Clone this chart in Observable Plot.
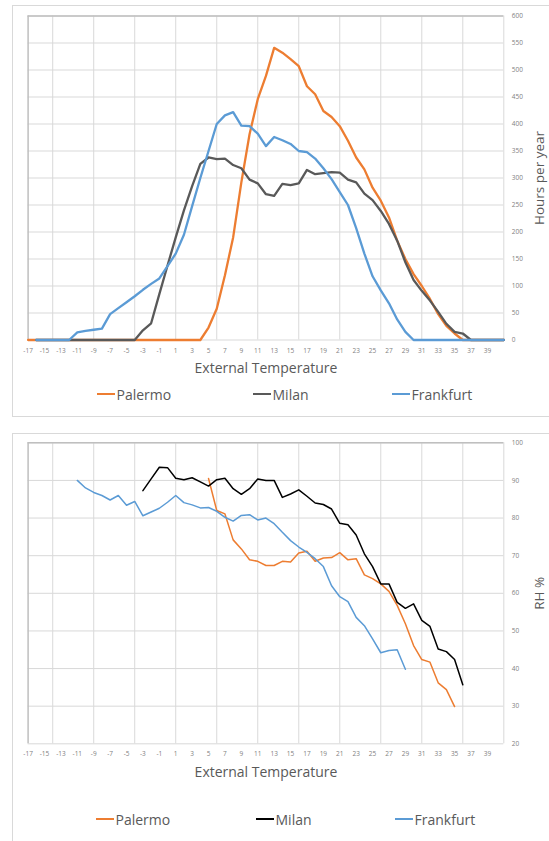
<!DOCTYPE html>
<html>
<head>
<meta charset="utf-8">
<script src="https://cdn.jsdelivr.net/npm/d3@7"></script>
<script src="https://cdn.jsdelivr.net/npm/@observablehq/plot@0.6"></script>
<style>
  body { margin: 0; background: #fff; font-family: "Open Sans", sans-serif; }
  #page { position: relative; width: 549px; height: 841px; overflow: hidden; background: #fff; }
  .chart { position: absolute; left: 0; }
  .panel { position: absolute; border: 1px solid #d9d9d9; box-sizing: border-box; background: transparent; pointer-events: none; }
  .legend { position: absolute; left: 0; width: 549px; height: 20px; font-size: 14px; color: #595959; }
  .item { position: absolute; top: 0; height: 20px; display: flex; align-items: center; white-space: nowrap; }
  .sw { display: inline-block; width: 18px; margin-right: 1.5px; }
</style>
</head>
<body>
<div id="page">
  <div id="top" class="chart" style="top:0px"></div>
  <div id="bottom" class="chart" style="top:427px"></div>
  <div class="panel" style="left:12px; top:5px; width:545px; height:412px;"></div>
  <div class="panel" style="left:12px; top:433px; width:545px; height:420px;"></div>
  <div id="legTop" class="legend" style="top:384px"></div>
  <div id="legBottom" class="legend" style="top:809px"></div>
</div>
<script>
// ---- categories & ticks ----
const temps = [-17,-16,-15,-14,-13,-12,-11,-10,-9,-8,-7,-6,-5,-4,-3,-2,-1,0,1,2,3,4,5,6,7,8,9,10,11,12,13,14,15,16,17,18,19,20,21,22,23,24,25,26,27,28,29,30,31,32,33,34,35,36,37,38,39,40,41];
const xTickLabels = [-17,-15,-13,-11,-9,-7,-5,-3,-1,1,3,5,7,9,11,13,15,17,19,21,23,25,27,29,31,33,35,37,39];
const xGridLines = [-14,-9,-4,1,6,11,16,21,26,31,36,41];
const hoursTicks = [0,50,100,150,200,250,300,350,400,450,500,550,600];
const rhTicks = [20,30,40,50,60,70,80,90,100];
const seriesNames = ["Palermo","Milan","Frankfurt"];

// ---- hours per year (top chart) ----
const palermoHours = [0,0,0,0,0,0,0,0,0,0,0,0,0,0,0,0,0,0,0,0,0,0,
  23,58,120,190,292,381,446,489,541,532,520,507,470,455,424,413,396,369,338,316,282,258,227,184,150,122,100,76,48,26,12,
  0,0,0,0,0,0];
const milanHours = [null,0,0,0,0,0,0,0,0,0,0,0,0,0,
  18,31,85,138,190,240,285,326,338,335,336,324,318,297,290,270,267,289,287,290,315,307,309,311,310,297,292,271,259,239,215,184,144,111,91,73,52,30,15,12,
  0,0,0,0,0];
const frankfurtHours = [null,0,0,0,0,0,
  14,17,19,21,48,59,70,81,93,104,114,137,160,195,248,300,350,400,416,422,397,396,382,359,376,370,363,350,348,336,318,298,274,250,207,160,118,92,68,38,15,
  0,0,0,0,0,0,0,0,0,0,0,0];

// ---- relative humidity (bottom chart) ----
const palermoRH = [null,null,null,null,null,null,null,null,null,null,null,null,null,null,null,null,null,null,null,null,null,null,
  90.5,82,81.1,74.2,71.8,68.9,68.5,67.4,67.4,68.5,68.3,70.7,71.2,68.5,69.4,69.5,70.8,68.9,69.2,64.9,63.9,62.5,60.5,56.8,51.9,46.1,42.4,41.7,36.2,34.4,29.9,
  null,null,null,null,null,null];
const milanRH = [null,null,null,null,null,null,null,null,null,null,null,null,null,null,
  87.3,90.4,93.5,93.4,90.6,90.2,90.7,89.6,88.5,90.2,90.6,87.8,86.3,87.8,90.4,90,90,85.5,86.4,87.5,85.8,84,83.6,82.4,78.6,78.2,75.5,70.5,67.1,62.5,62.5,57.6,56,57.2,52.8,51.2,45.2,44.5,42.4,35.7,
  null,null,null,null,null];
const frankfurtRH = [null,null,null,null,null,null,
  90,88,86.8,86,84.8,86,83.4,84.4,80.6,81.6,82.6,84.2,86,84.1,83.5,82.7,82.8,81.8,80.2,79.2,80.7,80.9,79.5,80,78.5,76.2,74,72.3,70.9,69.2,67.1,62,59.1,57.8,53.6,51.4,47.9,44.2,44.8,45,39.8,
  null,null,null,null,null,null,null,null,null,null,null,null];

const topColors = ["#ED7D31", "#595959", "#5B9BD5"];
const bottomColors = ["#ED7D31", "#000000", "#5B9BD5"];

function rows(values) {
  return temps.map((t, i) => ({t, v: values[i]}));
}

function makeChart({series, colors, strokeWidth, yDomain, yTicks, yLabel, height, marginTop}) {
  return Plot.plot({
    width: 549,
    height,
    marginTop,
    marginBottom: 45,
    marginLeft: 27.6,
    marginRight: 45.7,
    x: {type: "linear", domain: [-17, 41]},
    y: {domain: yDomain},
    style: {fontFamily: "Open Sans", color: "#595959", background: "transparent"},
    marks: [
      Plot.gridY(yTicks, {stroke: "#d9d9d9", strokeOpacity: 1, strokeWidth: 1}),
      Plot.gridX(xGridLines, {stroke: "#d9d9d9", strokeOpacity: 1, strokeWidth: 1}),
      Plot.ruleY([yDomain[1]], {stroke: "#bfbfbf", strokeWidth: 1.5}),
      Plot.ruleX([-17], {stroke: "#bfbfbf", strokeWidth: 1.5}),
      ...series.map((s, i) => Plot.lineY(rows(s), {x: "t", y: "v", stroke: colors[i], strokeWidth})),
      Plot.axisX(xTickLabels, {tickSize: 0, tickPadding: 8, fontSize: 6.5, fill: "#7f7f7f", label: null, tickFormat: d => String(d)}),
      Plot.axisY(yTicks, {anchor: "right", tickSize: 0, tickPadding: 8, fontSize: 6.5, fill: "#7f7f7f", label: null, tickFormat: d => String(d)}),
      Plot.text(["External Temperature"], {text: d => d, frameAnchor: "bottom", lineAnchor: "middle", textAnchor: "middle", dy: 29, fontSize: 14, fill: "#595959"}),
      Plot.text([yLabel], {text: d => d, frameAnchor: "right", lineAnchor: "middle", textAnchor: "middle", rotate: -90, dx: 36, fontSize: 13.5, fill: "#595959"})
    ]
  });
}

document.getElementById("top").append(makeChart({
  series: [palermoHours, milanHours, frankfurtHours],
  colors: topColors, strokeWidth: 2.3,
  yDomain: [0, 600], yTicks: hoursTicks, yLabel: "Hours per year",
  height: 384.5, marginTop: 15.5
}));

document.getElementById("bottom").append(makeChart({
  series: [palermoRH, milanRH, frankfurtRH],
  colors: bottomColors, strokeWidth: 1.5,
  yDomain: [20, 100], yTicks: rhTicks, yLabel: "RH %",
  height: 361.3, marginTop: 15.3
}));

function legend(el, colors, lefts, thickness) {
  seriesNames.forEach((name, i) => {
    const item = document.createElement("div");
    item.className = "item";
    item.style.left = lefts[i] + "px";
    const sw = document.createElement("span");
    sw.className = "sw";
    sw.style.height = thickness + "px";
    sw.style.background = colors[i];
    item.append(sw, document.createTextNode(name));
    el.append(item);
  });
}
legend(document.getElementById("legTop"), topColors, [97, 253, 392], 2.5);
legend(document.getElementById("legBottom"), bottomColors, [96, 256, 395], 1.8);
</script>
</body>
</html>
